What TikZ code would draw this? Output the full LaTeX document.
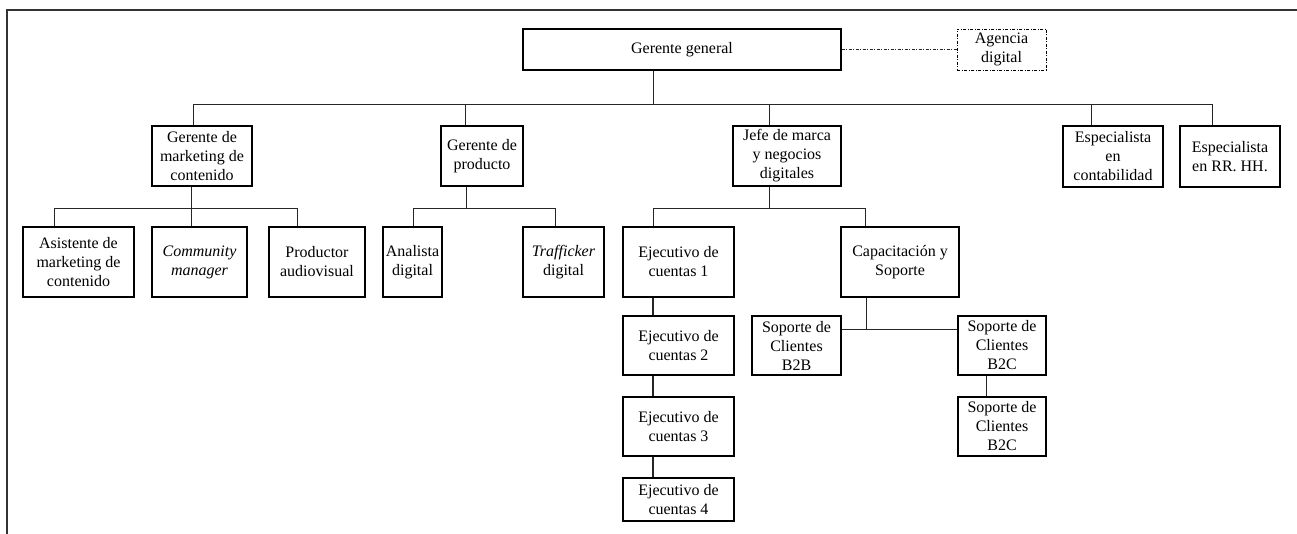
\documentclass[tikz,border=0pt]{standalone}
\usepackage{fontspec}
\setmainfont{Liberation Serif}
\begin{document}
\begin{tikzpicture}[x=1pt,y=-1pt,
  box/.style={draw=black,line width=1.1pt,fill=white,inner sep=0pt,align=center,
    font=\fontsize{16}{19}\selectfont},
  conn/.style={draw=black!85,line width=0.9pt},
  dashdot/.style={dash pattern=on 3pt off 1.5pt on 1pt off 1.5pt}]
\useasboundingbox (0,0) rectangle (1297,534);
% frame
\draw[line width=1.2pt,black!80] (1297,10) -- (7,10) -- (7,534);
% level 0
\node[box,minimum width=318pt,minimum height=41pt] (gg) at (682,49.5) {Gerente general};
\node[box,dashdot,line width=0.8pt,minimum width=89pt,minimum height=41pt] (ag) at (1001.5,49.5) {Agencia\\digital};
% level 1
\node[box,minimum width=100pt,minimum height=60pt] (gm) at (202,156) {Gerente de\\marketing de\\contenido};
\node[box,minimum width=82pt,minimum height=60pt] (gp) at (482,156) {Gerente de\\producto};
\node[box,minimum width=108pt,minimum height=60pt] (jm) at (787,156) {Jefe de marca\\y negocios\\digitales};
\node[box,minimum width=100pt,minimum height=61pt] (ec) at (1113,156.5) {Especialista\\en\\contabilidad};
\node[box,minimum width=100pt,minimum height=61pt] (er) at (1230,156.5) {Especialista\\en RR. HH.};
% level 2
\node[box,minimum width=111pt,minimum height=70pt] (as) at (78.5,262) {Asistente de\\marketing de\\contenido};
\node[box,minimum width=95pt,minimum height=70pt] (cm) at (199.5,262) {\textit{Community}\\\textit{manager}};
\node[box,minimum width=96pt,minimum height=70pt] (pa) at (317,262) {Productor\\audiovisual};
\node[box,minimum width=59pt,minimum height=70pt] (an) at (412.5,262) {Analista\\digital};
\node[box,minimum width=81pt,minimum height=70pt] (tr) at (563.5,262) {\textit{Trafficker}\\digital};
\node[box,minimum width=111pt,minimum height=70pt] (e1) at (678.5,262) {Ejecutivo de\\cuentas 1};
\node[box,minimum width=118pt,minimum height=70pt] (cs) at (900,262) {Capacitación y\\Soporte};
% level 3
\node[box,minimum width=111pt,minimum height=59pt] (e2) at (678.5,345.5) {Ejecutivo de\\cuentas 2};
\node[box,minimum width=111pt,minimum height=59pt] (e3) at (678.5,426.5) {Ejecutivo de\\cuentas 3};
\node[box,minimum width=111pt,minimum height=43pt] (e4) at (678.5,499.5) {Ejecutivo de\\cuentas 4};
\node[box,minimum width=89pt,minimum height=59pt] (bb) at (796.5,345.5) {Soporte de\\Clientes\\B2B};
\node[box,minimum width=88pt,minimum height=59pt] (bc1) at (1002,345.5) {Soporte de\\Clientes\\B2C};
\node[box,minimum width=88pt,minimum height=59pt] (bc2) at (1002,426.5) {Soporte de\\Clientes\\B2C};
% bus coordinates
\coordinate (top) at (653,104);
\coordinate (t1) at (193,104);
\coordinate (t2) at (465,104);
\coordinate (t3) at (769,104);
\coordinate (t4) at (1091,104);
\coordinate (t5) at (1212,104);
\coordinate (m0) at (191,208);
\coordinate (m1) at (54,208);
\coordinate (m3) at (297,208);
\coordinate (p0) at (466,208);
\coordinate (p1) at (413,208);
\coordinate (p2) at (555,208);
\coordinate (j0) at (769,208);
\coordinate (j1) at (653,208);
\coordinate (j2) at (865,208);
\coordinate (c0) at (866,329);
% connectors
\draw[conn,dashdot] (gg.east) -- (ag.west);
\draw[conn] (gg.south -| top) -- (top);
\draw[conn] (t1) -- (t5);
\draw[conn] (t1) -- (t1 |- gm.north);
\draw[conn] (t2) -- (t2 |- gp.north);
\draw[conn] (t3) -- (t3 |- jm.north);
\draw[conn] (t4) -- (t4 |- ec.north);
\draw[conn] (t5) -- (t5 |- er.north);
\draw[conn] (gm.south -| m0) -- (m0);
\draw[conn] (m1) -- (m3);
\draw[conn] (m1) -- (m1 |- as.north);
\draw[conn] (m0) -- (m0 |- cm.north);
\draw[conn] (m3) -- (m3 |- pa.north);
\draw[conn] (gp.south -| p0) -- (p0);
\draw[conn] (p1) -- (p2);
\draw[conn] (p1) -- (p1 |- an.north);
\draw[conn] (p2) -- (p2 |- tr.north);
\draw[conn] (jm.south -| j0) -- (j0);
\draw[conn] (j1) -- (j2);
\draw[conn] (j1) -- (j1 |- e1.north);
\draw[conn] (j2) -- (j2 |- cs.north);
\draw[conn,line width=1.2pt] (e1.south -| j1) -- (e2.north -| j1);
\draw[conn,line width=1.2pt] (e2.south -| j1) -- (e3.north -| j1);
\draw[conn,line width=1.2pt] (e3.south -| j1) -- (e4.north -| j1);
\draw[conn] (cs.south -| c0) -- (c0);
\draw[conn] (bb.east |- c0) -- (bc1.west |- c0);
\draw[conn] (bc1.south -| 986,0) -- (bc2.north -| 986,0);
\end{tikzpicture}
\end{document}
